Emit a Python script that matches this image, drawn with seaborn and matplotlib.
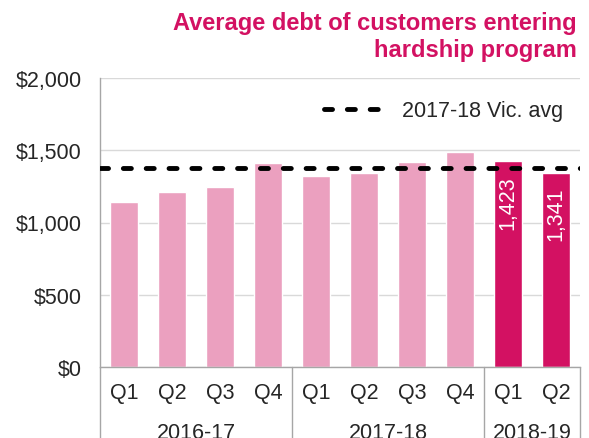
import pandas as pd
import numpy as np
import seaborn as sns
import matplotlib.pyplot as plt
import matplotlib.transforms as mtransforms
from matplotlib.lines import Line2D

# Chart data
years = ["2016-17"] * 4 + ["2017-18"] * 4 + ["2018-19"] * 2
quarters = ["Q1", "Q2", "Q3", "Q4", "Q1", "Q2", "Q3", "Q4", "Q1", "Q2"]
avg_debt = [1140, 1209, 1244, 1412, 1324, 1340, 1417, 1490, 1423, 1341]
vic_avg = 1380
vic_label = "2017-18 Vic. avg"
title = "Average debt of customers entering\nhardship program"

light_pink = "#EBA0BF"
magenta = "#D31162"
grey = "#A6A6A6"
fs = 15.5

data = pd.DataFrame({"year": years, "quarter": quarters, "debt": avg_debt})
data["key"] = data["year"] + " " + data["quarter"]
data["latest"] = np.where(data["year"] == "2018-19", "latest", "past")

sns.set_style("white")
plt.rcParams["font.family"] = ["Liberation Sans", "DejaVu Sans"]

fig = plt.figure(figsize=(5.89, 4.39), dpi=100)
ax = fig.add_axes([100 / 589, 1 - 368 / 439, 480 / 589, 289 / 439])

sns.barplot(data=data, x="key", y="debt", hue="latest",
            palette={"past": light_pink, "latest": magenta},
            dodge=False, legend=False, width=0.57, saturation=1, ax=ax)

ax.set_xlim(-0.5, len(data) - 0.5)
ax.set_ylim(0, 2000)
ax.set_yticks([0, 500, 1000, 1500, 2000])
ax.set_yticklabels([f"${v:,.0f}" for v in [0, 500, 1000, 1500, 2000]], fontsize=fs)
ax.set_xticks(range(len(data)))
ax.set_xticklabels(data["quarter"], fontsize=fs)
ax.tick_params(axis="x", length=0, pad=11)
ax.tick_params(axis="y", length=0, pad=13)
ax.set_xlabel("")
ax.set_ylabel("")

ax.yaxis.grid(True, color="#D9D9D9", linewidth=1)
ax.set_axisbelow(True)
for side in ["top", "right"]:
    ax.spines[side].set_visible(False)
for side in ["left", "bottom"]:
    ax.spines[side].set_color(grey)
    ax.spines[side].set_linewidth(1)

# Vic average line
ax.axhline(vic_avg, color="black", linewidth=3.5, linestyle=(0, (1.65, 3.05)),
           dash_capstyle="round", zorder=5)

# data labels inside latest bars
for i, row in data.iterrows():
    if row["latest"] == "latest":
        ax.text(i, row["debt"] - 95, f"{row['debt']:,}", rotation=90,
                ha="center", va="top", color="white", fontsize=fs)

# group labels and separators
trans = mtransforms.blended_transform_factory(ax.transData, ax.transAxes)
bounds = [-0.5]
for y in data["year"].unique():
    idx = data.index[data["year"] == y]
    bounds.append(idx.max() + 0.5)
    ax.text((idx.min() + idx.max()) / 2, -0.225, y, transform=trans,
            ha="center", va="center", fontsize=fs)
for b in bounds:
    ax.plot([b, b], [0, -0.3], transform=trans, color=grey, linewidth=1,
            clip_on=False)

handle = Line2D([], [], color="black", linewidth=3.5,
                linestyle=(0, (1.65, 3.05)), dash_capstyle="round")
ax.legend([handle], [vic_label], loc="upper right", frameon=False,
          fontsize=fs, handlelength=2.75, handletextpad=0.85,
          bbox_to_anchor=(1.005, 0.99))

fig.text(577 / 589, 1 - 12 / 439, title, ha="right", va="top",
         fontsize=17, fontweight="bold", color=magenta, linespacing=1.2)

fig.savefig("out.png", dpi=100)
